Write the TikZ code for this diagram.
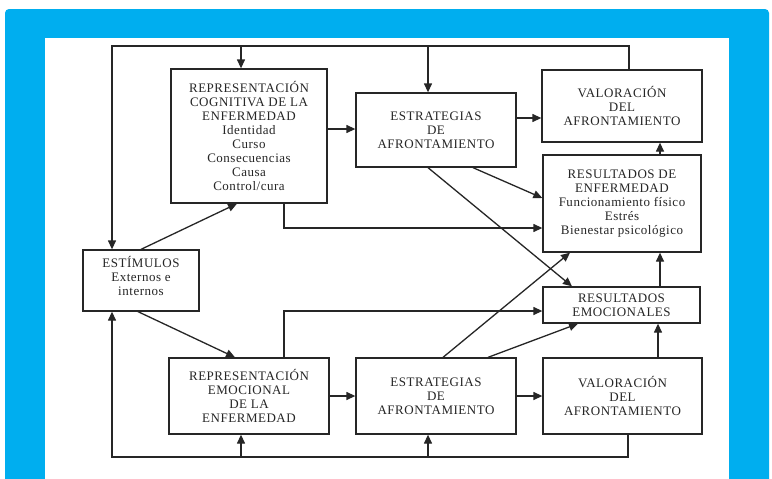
\documentclass[tikz,border=0pt]{standalone}
\usepackage{fontspec}
\setmainfont{Liberation Serif}
\newfontfamily\boxfont[LetterSpace=4]{Liberation Serif}
\usepackage{xcolor}
\usepackage{tikz}
\usetikzlibrary{arrows.meta,calc}
\definecolor{frame}{HTML}{00AEEF}
\definecolor{ink}{HTML}{262626}
\tikzset{
  box/.style={draw=ink, line width=1.3pt, fill=white, align=center, inner sep=0pt,
    text=ink, font=\boxfont\fontsize{13}{14}\selectfont},
  lnk/.style={draw=ink, line width=1.3pt, line join=miter},
  arr/.style={lnk, -{Triangle[length=9pt,width=8pt]}},
}

\begin{document}
\begin{tikzpicture}[x=1pt,y=-1pt]
% frame
\useasboundingbox (0,0) rectangle (772,479);
\clip (0,0) rectangle (772,479);
\fill[white] (0,0) rectangle (772,479);
\fill[frame, rounded corners=4pt] (5,9) rectangle (769,490);
\fill[white] (45,38) rectangle (729,490);

% boxes
\node[box, minimum width=116, minimum height=61] (stim) at (141,280.5)
  {ESTÍMULOS\\Externos e\\internos\\[-4pt]};
\node[box, minimum width=156, minimum height=134] (rc) at (249,136)
  {REPRESENTACIÓN\\COGNITIVA DE LA\\ENFERMEDAD\\Identidad\\Curso\\Consecuencias\\Causa\\Control/cura};
\node[box, minimum width=160, minimum height=74] (estA) at (436,130)
  {ESTRATEGIAS\\DE\\AFRONTAMIENTO};
\node[box, minimum width=160, minimum height=72] (valA) at (622,106)
  {VALORACIÓN\\DEL\\AFRONTAMIENTO};
\node[box, minimum width=158, minimum height=97] (resEnf) at (622,203.5)
  {RESULTADOS DE\\ENFERMEDAD\\Funcionamiento físico\\Estrés\\Bienestar psicológico};
\node[box, minimum width=157, minimum height=36] (resEmo) at (621.5,305)
  {RESULTADOS\\EMOCIONALES};
\node[box, minimum width=160, minimum height=76] (re) at (249,396)
  {REPRESENTACIÓN\\EMOCIONAL\\DE LA\\ENFERMEDAD};
\node[box, minimum width=160, minimum height=76] (estB) at (436,396)
  {ESTRATEGIAS\\DE\\AFRONTAMIENTO};
\node[box, minimum width=159, minimum height=76] (valB) at (622.5,396)
  {VALORACIÓN\\DEL\\AFRONTAMIENTO};

% feedback rails
\coordinate (railT) at (0,46);
\coordinate (railB) at (0,457);
\coordinate (vaTop) at ([xshift=7pt]valA.north);
\coordinate (stTop) at ([xshift=-29pt]stim.north);
\coordinate (rcIn) at ([xshift=-8pt]rc.north);
\coordinate (eaIn) at ([xshift=-8pt]estA.north);
\coordinate (vbBot) at ([xshift=5.5pt]valB.south);
\coordinate (stBot) at ([xshift=-29pt]stim.south);
\coordinate (reIn) at ([xshift=-8pt]re.south);
\coordinate (ebIn) at ([xshift=-8pt]estB.south);

\draw[arr] (vaTop) -- (vaTop |- railT) -| (stTop);
\draw[arr] (rcIn |- railT) -- (rcIn);
\draw[arr] (eaIn |- railT) -- (eaIn);
\draw[arr] (vbBot) -- (vbBot |- railB) -| (stBot);
\draw[arr] (reIn |- railB) -- (reIn);
\draw[arr] (ebIn |- railB) -- (ebIn);

% top row
\coordinate (rcOut) at ([yshift=7pt]rc.east);
\coordinate (eaOut) at ([yshift=12pt]estA.east);
\draw[arr] (rcOut) -- (rcOut -| estA.west);
\draw[arr] (eaOut) -- (eaOut -| valA.west);

% bottom row
\draw[arr] (re.east) -- (re.east -| estB.west);
\draw[arr] (estB.east) -- (estB.east -| valB.west);

% right column
\coordinate (enUp) at ([xshift=38pt]resEnf.north);
\coordinate (emUp) at ([xshift=38.5pt]resEmo.north);
\coordinate (vbUp) at ([xshift=35.5pt]valB.north);
\draw[arr] (enUp) -- (enUp |- valA.south);
\draw[arr] (emUp) -- (emUp |- resEnf.south);
\draw[arr] (vbUp) -- (vbUp |- resEmo.south);

% elbows to results
\coordinate (rcDown) at ([xshift=35pt]rc.south);
\coordinate (enIn) at ([yshift=-24.5pt]resEnf.west);
\coordinate (reUp) at ([xshift=35pt]re.north);
\coordinate (emIn) at ([yshift=-6pt]resEmo.west);
\draw[arr] (rcDown) |- (enIn);
\draw[arr] (reUp) |- (emIn);

% diagonals
\draw[arr] (stim.north) -- ([xshift=-12pt]rc.south);
\draw[arr] ([xshift=-3pt]stim.south) -- ([xshift=-14pt]re.north);
\draw[arr] ([xshift=37pt]estA.south) -- ([yshift=5.5pt]resEnf.west);
\draw[arr] ([xshift=-8pt]estA.south) -- ([xshift=-49.5pt]resEmo.north);
\draw[arr] ([xshift=7pt]estB.north) -- ([xshift=-52pt]resEnf.south);
\draw[arr] ([xshift=52pt]estB.north) -- ([xshift=-43.5pt]resEmo.south);
\end{tikzpicture}
\end{document}
